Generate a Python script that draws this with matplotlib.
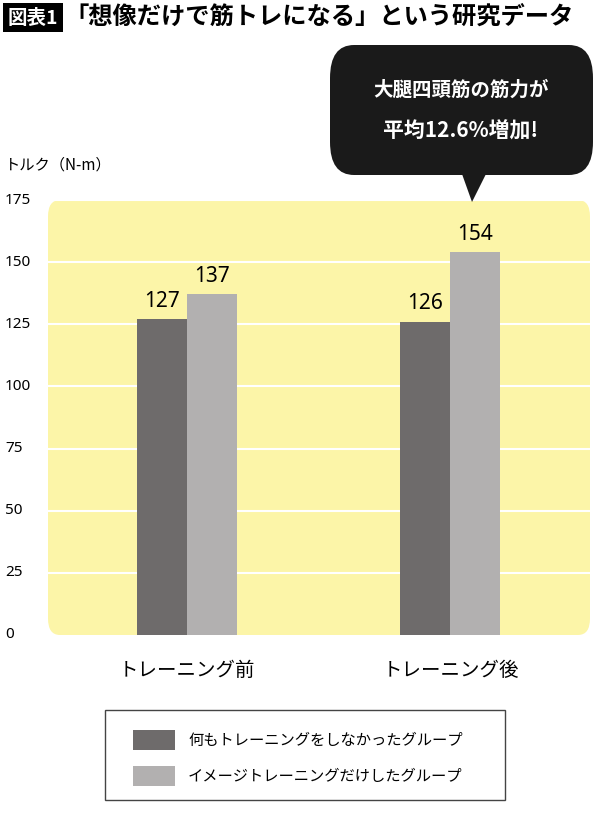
import matplotlib
matplotlib.use("Agg")
import matplotlib.pyplot as plt
from matplotlib.patches import FancyBboxPatch, Rectangle, Polygon
import numpy as np

plt.rcParams['font.family'] = ['Noto Sans CJK JP', 'DejaVu Sans']

categories = ["トレーニング前", "トレーニング後"]
series_names = ["何もトレーニングをしなかったグループ", "イメージトレーニングだけしたグループ"]
control = [127, 126]
imagery = [137, 154]
yticks = [0, 25, 50, 75, 100, 125, 150, 175]
c_dark = "#6e6b6b"
c_light = "#b2b0b0"

W, H = 600, 827
fig = plt.figure(figsize=(W/100, H/100), dpi=100)
fig.patch.set_facecolor("white")

def fx(px): return px / W
def fy(py): return 1 - py / H

bg = FancyBboxPatch((fx(48), fy(635)), fx(590) - fx(48), fy(200) - fy(635),
                    boxstyle="round,pad=0,rounding_size=0.02", transform=fig.transFigure,
                    facecolor="#fcf5a8", edgecolor="none", zorder=-5)
fig.patches.append(bg)

ax = fig.add_axes([fx(45), fy(635), fx(590) - fx(45), fy(200) - fy(635)])
ax.set_facecolor("none")
ax.set_xlim(-0.54, 1.53)
ax.set_ylim(0, 175)
x = np.arange(len(categories))
w = 0.19
b1 = ax.bar(x - w/2, control, w, color=c_dark, zorder=3, label=series_names[0])
b2 = ax.bar(x + w/2, imagery, w, color=c_light, zorder=3, label=series_names[1])
for bars in (b1, b2):
    for r in bars:
        ax.text(r.get_x() + r.get_width()/2, r.get_height() + 3, f"{int(r.get_height())}",
                ha="center", va="bottom", fontsize=15, family="Noto Sans", zorder=4)
for t in yticks[1:]:
    ax.axhline(t, color="white", lw=1.5, zorder=1)
ax.set_yticks(yticks)
ax.set_yticklabels([])
ax.tick_params(axis="y", length=0)
for t in yticks:
    ax.text(-40/545, t, str(t), transform=ax.get_yaxis_transform(), ha="left", va="center",
            fontsize=11, family="Noto Sans", clip_on=False)
ax.set_xticks(x)
ax.set_xticklabels(categories, fontsize=14)
ax.tick_params(axis="x", length=0, pad=18)
for s in ax.spines.values():
    s.set_visible(False)

fig.text(fx(5), fy(165), "トルク（N-m）", fontsize=11, va="center")

fig.patches.append(Rectangle((fx(3), fy(32)), fx(60), fy(3) - fy(32), transform=fig.transFigure,
                             facecolor="black", edgecolor="none"))
fig.text(fx(33), fy(18), "図表1", color="white", fontsize=14, fontweight="bold", ha="center", va="center")
fig.text(fx(64), fy(18), "「想像だけで筋トレになる」という研究データ", fontsize=17.5, fontweight="bold", va="center")

cb = FancyBboxPatch((fx(330), fy(175)), fx(593) - fx(330), fy(45) - fy(175),
                    boxstyle="round,pad=0,rounding_size=0.04", transform=fig.transFigure,
                    facecolor="#1a1a1a", edgecolor="none")
fig.patches.append(cb)
fig.patches.append(Polygon([(fx(462), fy(174)), (fx(486), fy(174)), (fx(472), fy(202))],
                           closed=True, transform=fig.transFigure, facecolor="#1a1a1a", edgecolor="none"))
fig.text(fx(461), fy(90), "大腿四頭筋の筋力が", color="white", fontsize=14, fontweight="bold", ha="center", va="center")
fig.text(fx(461), fy(131), "平均12.6%増加!", color="white", fontsize=15, fontweight="bold", ha="center", va="center")

fig.patches.append(Rectangle((fx(105), fy(800)), fx(505) - fx(105), fy(710) - fy(800),
                             transform=fig.transFigure, facecolor="white", edgecolor="#444444", lw=1))
for i, (name, c) in enumerate(zip(series_names, [c_dark, c_light])):
    yc = 740 + i * 36
    fig.patches.append(Rectangle((fx(133), fy(yc + 10)), fx(175) - fx(133), fy(yc - 10) - fy(yc + 10),
                                 transform=fig.transFigure, facecolor=c, edgecolor="none"))
    fig.text(fx(188), fy(yc), name, fontsize=11, va="center")

fig.savefig("out.png", dpi=100)
